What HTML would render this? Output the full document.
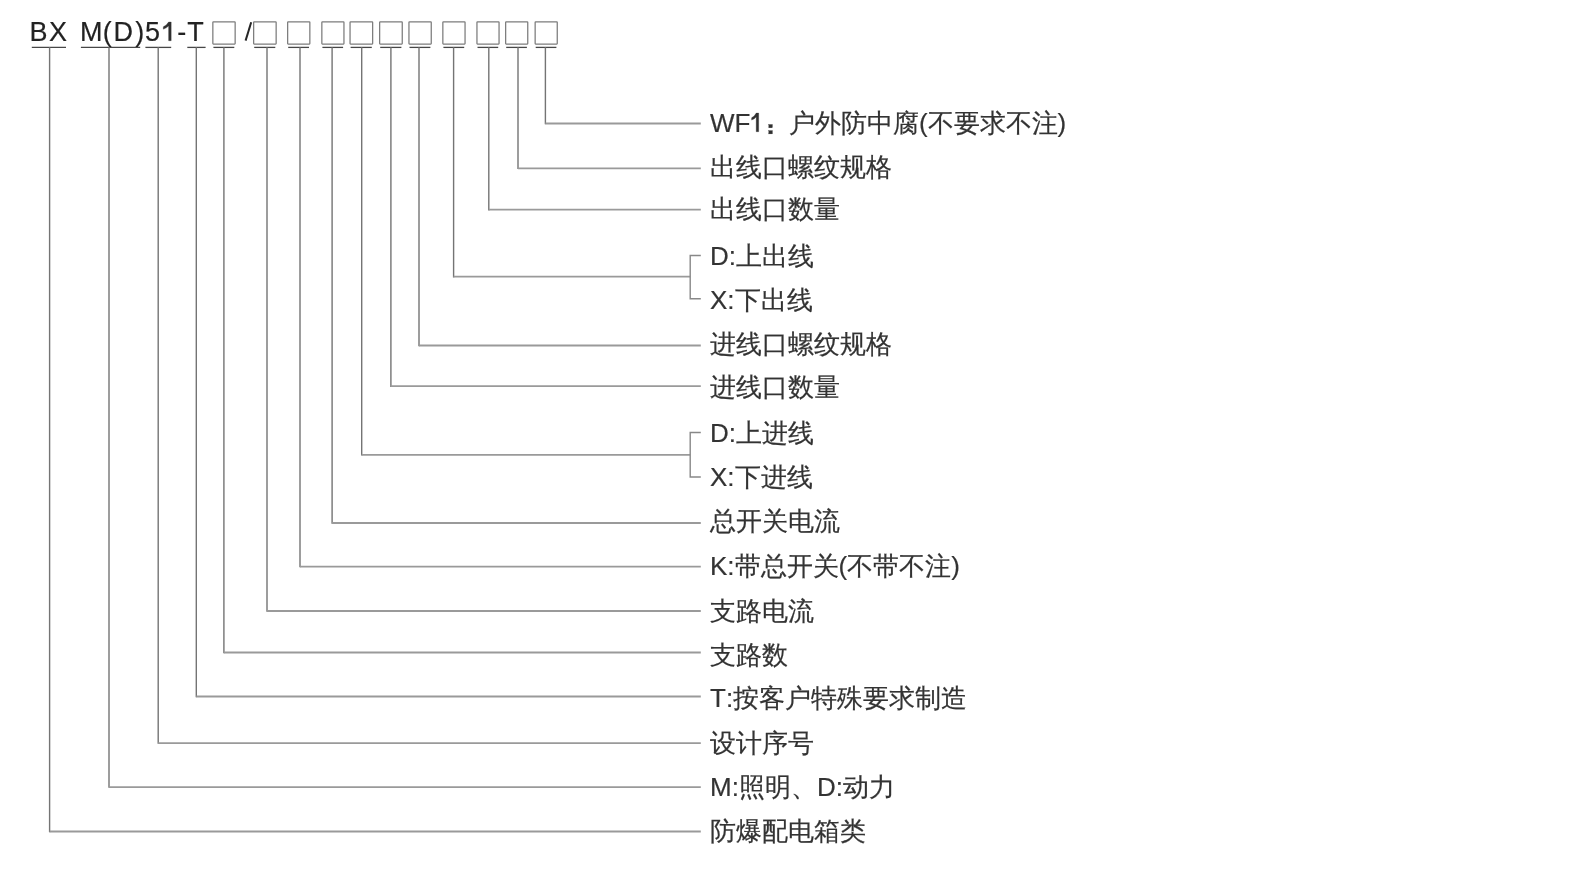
<!DOCTYPE html>
<html><head><meta charset="utf-8"><style>
html,body{margin:0;padding:0;background:#fff;width:1593px;height:884px;overflow:hidden}
svg{position:absolute;left:0;top:0;will-change:transform}
text{font-family:"Liberation Sans",sans-serif;font-size:26px;fill:#333;stroke:#333;stroke-width:0.2;font-kerning:none}
.hd{font-size:27px;fill:#222;stroke:#222}
.f{fill:#303030;stroke:#303030;stroke-width:0.3}
.v{fill:none;stroke:#747474;stroke-width:1.4;stroke-linecap:square}
.h{fill:none;stroke:#9a9a9a;stroke-width:1.8}
.br{fill:none;stroke:#888;stroke-width:1.4}
.u path{fill:none;stroke:#474747;stroke-width:1.3}
.bx rect{fill:none;stroke:#7c7c7c;stroke-width:1.25}
</style></head><body>
<svg width="1593" height="884" viewBox="0 0 1593 884">
<g class="bx">
<rect x="212.85" y="21.75" width="22.30" height="22.3" rx="0.5"/>
<rect x="253.65" y="21.75" width="22.50" height="22.3" rx="0.5"/>
<rect x="287.65" y="21.75" width="22.20" height="22.3" rx="0.5"/>
<rect x="321.85" y="21.75" width="22.10" height="22.3" rx="0.5"/>
<rect x="350.05" y="21.75" width="22.60" height="22.3" rx="0.5"/>
<rect x="379.65" y="21.75" width="22.60" height="22.3" rx="0.5"/>
<rect x="408.95" y="21.75" width="22.30" height="22.3" rx="0.5"/>
<rect x="442.85" y="21.75" width="22.20" height="22.3" rx="0.5"/>
<rect x="476.95" y="21.75" width="22.10" height="22.3" rx="0.5"/>
<rect x="505.65" y="21.75" width="22.10" height="22.3" rx="0.5"/>
<rect x="535.15" y="21.75" width="22.10" height="22.3" rx="0.5"/>
</g><g class="u">
<path d="M31.8 47.4H66"/>
<path d="M80.9 47.4H140.2"/>
<path d="M145.4 47.4H171.2"/>
<path d="M187.3 47.4H205.6"/>
<path d="M213.39999999999998 47.4H234.3"/>
<path d="M254.2 47.4H275.3"/>
<path d="M288.2 47.4H309.0"/>
<path d="M322.4 47.4H343.1"/>
<path d="M350.59999999999997 47.4H371.8"/>
<path d="M380.2 47.4H401.4"/>
<path d="M409.5 47.4H430.4"/>
<path d="M443.4 47.4H464.2"/>
<path d="M477.5 47.4H498.2"/>
<path d="M506.2 47.4H526.9"/>
<path d="M535.7 47.4H556.4"/>
</g>
<path class="v" d="M545.4 47.9V123.5 M518.0 47.9V168.3 M488.8 47.9V209.7 M453.6 47.9V276.7 M419.0 47.9V345.5 M390.9 47.9V386.2 M361.7 47.9V454.8 M332.1 47.9V523.0 M300.0 47.9V566.6 M267.0 47.9V611.0 M223.9 47.9V652.5 M196.3 47.9V696.5 M158.2 47.9V743.1 M109.0 47.9V787.1 M49.6 47.9V831.5"/>
<path class="h" d="M545.4 123.5H700.8 M518.0 168.3H700.8 M488.8 209.7H700.8 M453.6 276.7H690.2 M419.0 345.5H700.8 M390.9 386.2H700.8 M361.7 454.8H690.2 M332.1 523.0H700.8 M300.0 566.6H700.8 M267.0 611.0H700.8 M223.9 652.5H700.8 M196.3 696.5H700.8 M158.2 743.1H700.8 M109.0 787.1H700.8 M49.6 831.5H700.8"/>
<path class="br" d="M700.8 255.5H690.2V298.7H700.8 M700.8 432.5H690.2V477.0H700.8"/>
<text x="710.0" y="131.7">WF</text>
<path class="f" d="M756.2 113.1H758.7V131.7H756.2V116.9Q754.2 119.1 751.6 120.1V117.8Q754.6 116.4 756.2 113.1Z"/>
<rect class="f" x="768.8" y="124.5" width="3.6" height="3.3"/><rect class="f" x="768.8" y="130.6" width="3.6" height="3.3"/>
<text x="788.9" y="131.7">户外防中腐(不要求不注)</text>
<text x="710.0" y="175.5">出线口螺纹规格</text>
<text x="710.0" y="218.2">出线口数量</text>
<text x="710.0" y="264.7">D:上出线</text>
<text x="710.0" y="308.8">X:下出线</text>
<text x="710.0" y="353.4">进线口螺纹规格</text>
<text x="710.0" y="396.4">进线口数量</text>
<text x="710.0" y="441.7">D:上进线</text>
<text x="710.0" y="486.3">X:下进线</text>
<text x="710.0" y="529.9">总开关电流</text>
<text x="710.0" y="574.7">K:带总开关(不带不注)</text>
<text x="710.0" y="619.5">支路电流</text>
<text x="710.0" y="663.5">支路数</text>
<text x="710.0" y="707.2">T:按客户特殊要求制造</text>
<text x="710.0" y="751.8">设计序号</text>
<text x="710.0" y="795.9">M:照明、D:动力</text>
<text x="710.0" y="840.4">防爆配电箱类</text>
<text class="hd" x="29.40" y="40.7">B</text>
<text class="hd" x="48.90" y="40.7">X</text>
<text class="hd" x="80.05" y="40.7">M</text>
<text class="hd" x="102.80" y="40.7">(</text>
<text class="hd" x="113.60" y="40.7">D</text>
<text class="hd" x="135.30" y="40.7">)</text>
<text class="hd" x="145.07" y="40.7">5</text>
<text class="hd" x="177.15" y="40.7">-</text>
<text class="hd" x="187.30" y="40.7">T</text>
<path d="M245.6 40.6L251.2 22.3" style="fill:none;stroke:#262626;stroke-width:2"/>
<path class="f" d="M168.6 22H171.2V40.7H168.6V26.1Q166.6 28.2 163.3 29.2V26.8Q166.8 25.2 168.6 22Z"/>
</svg>
</body></html>
